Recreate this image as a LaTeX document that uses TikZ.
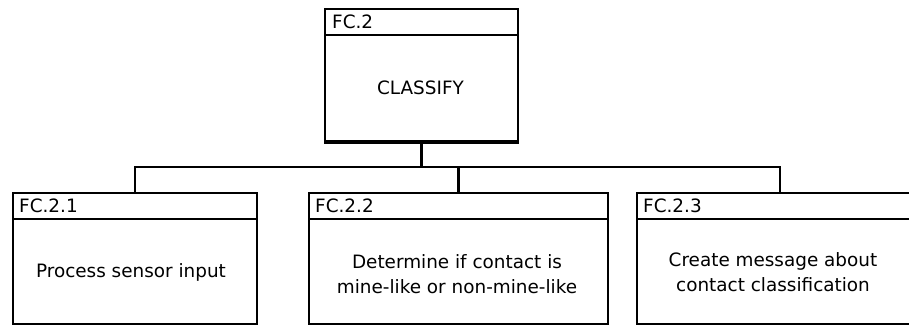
\documentclass[tikz,border=0pt]{standalone}
\usepackage{fontspec}
\setmainfont{DejaVu Sans}
\usetikzlibrary{calc}
\newcommand{\fcfont}{\fontsize{18.4}{25}\selectfont}
\tikzset{
  fcbox/.style={draw, line width=1.8pt, rectangle, inner sep=0pt, anchor=north west},
  hdr/.style={anchor=west, inner sep=0pt, font=\fcfont},
  bodytext/.style={align=center, inner sep=0pt, font=\fcfont},
  conn/.style={line width=2.2pt}
}
\begin{document}
\begin{tikzpicture}[x=1pt,y=-1pt]
\useasboundingbox (0,0) rectangle (909,324);
\clip (0,0) rectangle (909,324);
% top box
\node[fcbox, minimum width=193pt, minimum height=132pt] (top) at (324,8) {};
\draw[line width=3.5pt] (top.south west) -- (top.south east);
\draw[line width=1.8pt] ([yshift=-27pt]top.north west) -- ([yshift=-27pt]top.north east);
\node[hdr] (topid) at ([shift={(8pt,-13.5pt)}]top.north west) {FC.2};
\node[bodytext] (toptext) at (420.5,88) {CLASSIFY};
% child boxes
\node[fcbox, minimum width=244pt, minimum height=131pt] (c1) at (12,192) {};
\node[fcbox, minimum width=299pt, minimum height=131pt] (c2) at (308,192) {};
\node[fcbox, minimum width=286pt, minimum height=131pt] (c3) at (636,192) {};
\foreach \b in {c1,c2,c3}{
  \draw[line width=1.8pt] ([yshift=-27pt]\b.north west) -- ([yshift=-27pt]\b.north east);
}
\node[hdr] (c1id) at ([shift={(7pt,-13.5pt)}]c1.north west) {FC.2.1};
\node[hdr] (c2id) at ([shift={(7pt,-13.5pt)}]c2.north west) {FC.2.2};
\node[hdr] (c3id) at ([shift={(7pt,-13.5pt)}]c3.north west) {FC.2.3};
\node[bodytext] (c1text) at (131,272) {Process sensor input};
\node[bodytext] (c2text) at (457,274) {Determine if contact is\\mine-like or non-mine-like};
\node[bodytext] (c3text) at (773,272) {Create message about\\contact classification};
% connectors
\coordinate (busy) at (0,167);
\draw[conn] (top.south) -- (top.south |- busy);
\draw[conn] (c1.north) -- (c1.north |- busy) -- (c3.north |- busy) -- (c3.north);
\draw[conn] (c2.north) -- (c2.north |- busy);
\end{tikzpicture}
\end{document}
